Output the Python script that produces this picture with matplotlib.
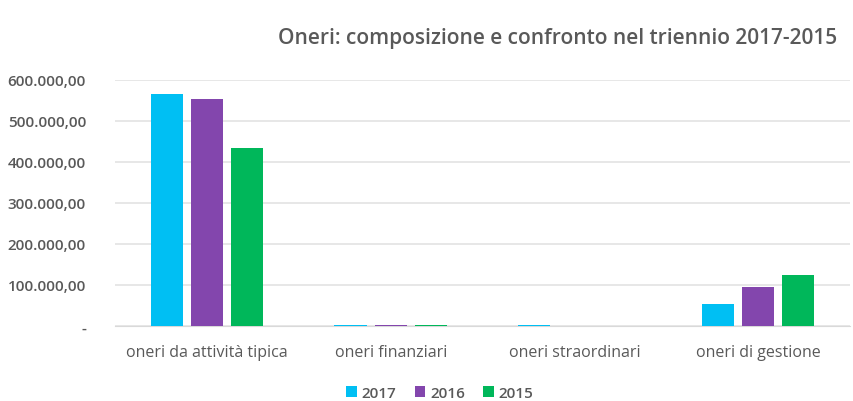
import matplotlib
matplotlib.use("Agg")
import matplotlib.pyplot as plt
import numpy as np
from matplotlib.ticker import FuncFormatter

categories = ["oneri da attività tipica", "oneri finanziari", "oneri straordinari", "oneri di gestione"]
series_names = ["2017", "2016", "2015"]
v2017 = [566000, 3000, 2500, 54000]
v2016 = [554000, 3000, 0, 95000]
v2015 = [434000, 3000, 0, 124000]
colors = ["#00BFF3", "#8346AD", "#00B75A"]

plt.rcParams['font.family'] = ['Open Sans', 'DejaVu Sans']
fig = plt.figure(figsize=(8.54, 4.02), dpi=100)
ax = fig.add_axes([0.135, 0.1866, 0.86, 0.612])

x = np.arange(len(categories))
w = 0.175
step = 0.219
for i, (vals, name, c) in enumerate(zip([v2017, v2016, v2015], series_names, colors)):
    ax.bar(x + (i - 1) * step, vals, width=w, color=c, label=name, zorder=3)

ax.set_xlim(-0.5, len(categories) - 0.5)
ax.set_ylim(0, 600000)
ax.set_yticks(np.arange(0, 600001, 100000))

def fmt(v, pos):
    if v == 0:
        return "-"
    s = f"{int(v):,}".replace(",", ".")
    return s + ",00"

ax.yaxis.set_major_formatter(FuncFormatter(fmt))
ax.grid(axis='y', color='#E3E3E3', linewidth=1.2, zorder=0)
ax.set_xticks(x)
ax.set_xticklabels(categories, fontsize=11.5)
for s in ["top", "right", "left"]:
    ax.spines[s].set_visible(False)
ax.spines["bottom"].set_color("#D9D9D9")
ax.tick_params(axis='both', length=0, colors='#595959')
ax.tick_params(axis='x', pad=13)
ax.tick_params(axis='y', pad=21, labelsize=11)
for lbl in ax.get_yticklabels():
    lbl.set_fontweight('semibold')

fig.text(0.98, 0.905, "Oneri: composizione e confronto nel triennio 2017-2015",
         ha='right', va='center', fontsize=15, color='#595959', fontweight='semibold')

leg = fig.legend(loc='center', bbox_to_anchor=(0.515, 0.02), ncol=3, frameon=False,
                 prop={'size': 11, 'weight': 'semibold'}, handlelength=0.7, handleheight=0.7,
                 handletextpad=0.3, columnspacing=1.2, labelcolor='#595959')

fig.savefig("out.png", dpi=100, facecolor='white')
